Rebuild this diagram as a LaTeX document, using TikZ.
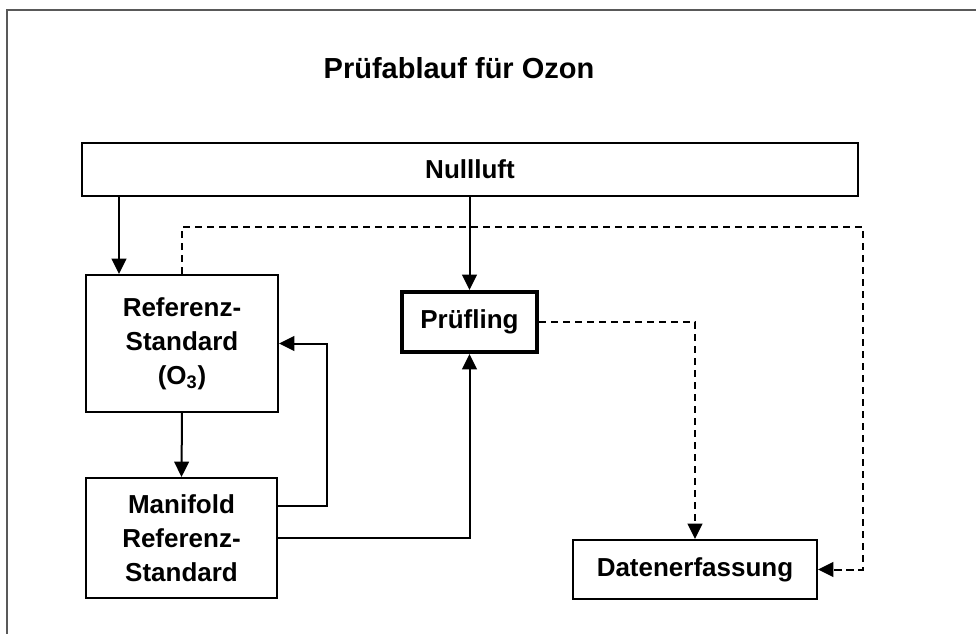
\documentclass[tikz,border=0pt]{standalone}
\usepackage{fontspec}
\setmainfont{Liberation Sans}
\usetikzlibrary{positioning, arrows.meta}

\begin{document}
\begin{tikzpicture}[
        x=0.75pt, y=-0.75pt,
        box/.style={draw, line width=1.5pt, inner sep=0pt, align=center, font=\fontsize{19.5}{25.5}\selectfont\bfseries},
        arr/.style={-{Triangle[length=11.5pt, width=11pt]}, line width=1.5pt},
        dasharr/.style={-{Triangle[length=11.5pt, width=11pt]}, line width=1.5pt, dash pattern=on 5.5pt off 3.5pt},
        frame/.style={draw=black!65, line width=1.6pt},
    ]
    \useasboundingbox (0,0) rectangle (976,633);

    % ---- FRAME ----
    \draw[frame] (7,640) -- (7,10) -- (990,10);

    % ---- TITLE ----
    \node[anchor=base, font=\fontsize{21.75}{26}\selectfont\bfseries] (title) at (459,78) {Prüfablauf für Ozon};

    % ---- BOXES ----
    \node[box, minimum width=582pt, minimum height=39.75pt] (nullluft) at (470,169.5) {Nullluft};
    \node[box, minimum width=144pt, minimum height=102.75pt] (ref) at (182,343.5) {Referenz-\\Standard\\(O\textsubscript{3})};
    \node[box, line width=3pt, minimum width=101.25pt, minimum height=45pt] (pruef) at (469.5,322) {Prüfling};
    \node[box, minimum width=143.25pt, minimum height=90pt] (mani) at (181.5,538) {Manifold\\Referenz-\\Standard};
    \node[box, minimum width=183pt, minimum height=44.25pt] (daten) at (695,569.5) {Datenerfassung};
    \coordinate (dcorner) at (863,227);

    % ---- ARROWS ----
    \draw[arr] ([xshift=25.5pt]ref.north west |- nullluft.south) -- ([xshift=25.5pt]ref.north west);
    \draw[arr] (nullluft.south -| pruef.north) -- (pruef.north);
    \draw[arr] (ref.south) -- (mani.north);
    \draw[arr] ([yshift=24pt]mani.east) -- ++(49,0) |- (ref.east);
    \draw[arr] (mani.east) -| (pruef.south);

    % ---- DATA LINES ----
    \draw[dasharr] (pruef.east) -| (daten.north);
    \draw[dasharr] (ref.north) |- (dcorner) |- (daten.east);

\end{tikzpicture}
\end{document}
